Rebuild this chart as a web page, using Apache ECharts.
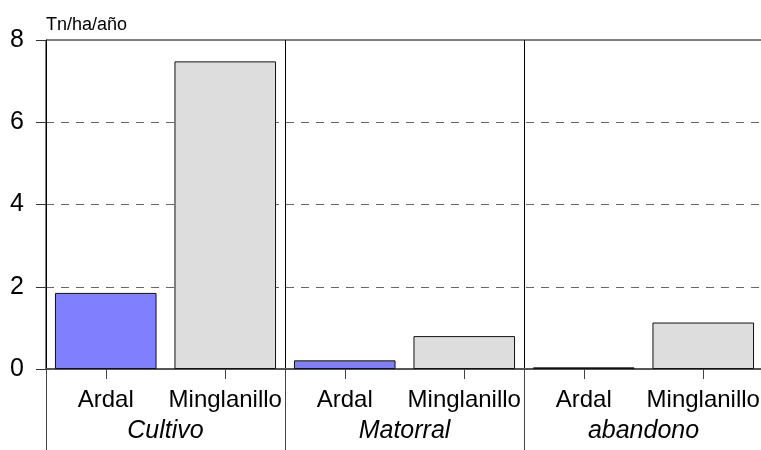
<!DOCTYPE html>
<html>
<head>
<meta charset="utf-8">
<script src="https://cdn.jsdelivr.net/npm/echarts@6/dist/echarts.min.js"></script>
<style>
html, body { margin: 0; padding: 0; background: #fff; }
#chart { width: 761px; height: 450px; }
</style>
</head>
<body>
<div id="chart"></div>
<script>
// grupos (uso del suelo) y sitios
var groups = ['Cultivo', 'Matorral', 'abandono'];
var sites = ['Ardal', 'Minglanillo'];
// Tn/ha/año
var ardal = [1.85, 0.21, 0.04];
var minglanillo = [7.48, 0.80, 1.13];
var yTicks = [0, 2, 4, 6, 8];

(function() {
	var cats = [];
	var ardalData = [];
	var mingData = [];
	for (var i = 0; i < groups.length; i++) {
		cats.push(sites[0]);
		cats.push(sites[1]);
		ardalData.push(ardal[i], '-');
		mingData.push('-', minglanillo[i]);
	}

	var chart = echarts.init(document.getElementById('chart'));
	chart.setOption({
		animation : false,
		textStyle : { fontFamily : 'Liberation Sans, Arial, sans-serif' },
		grid : {
			left : 46,
			right : -2,
			top : 40,
			bottom : 81,
			outerBoundsMode : 'none',
			containLabel : false,
			show : true,
			borderColor : '#000',
			borderWidth : 1,
			backgroundColor : 'transparent'
		},
		xAxis : [ {
			type : 'category',
			data : cats,
			axisLine : { show : true, lineStyle : { color : '#555', width : 2 } },
			axisTick : { show : true, alignWithLabel : true, length : 10, lineStyle : { color : '#444' } },
			axisLabel : { color : '#000', fontSize : 24, margin : 19, interval : 0 },
			splitLine : { show : false }
		}, {
			type : 'category',
			data : groups,
			position : 'bottom',
			axisLine : { show : false },
			axisTick : { show : true, alignWithLabel : false, length : 81, lineStyle : { color : '#444' } },
			axisLabel : { color : '#000', fontSize : 25, fontStyle : 'italic', margin : 50, interval : 0 },
			splitLine : { show : true, lineStyle : { color : '#000', width : 1 } }
		} ],
		yAxis : {
			type : 'value',
			min : 0,
			max : 8,
			interval : 2,
			name : 'Tn/ha/año',
			nameLocation : 'end',
			nameGap : 6,
			nameTextStyle : { color : '#000', fontSize : 18, align : 'left' },
			axisLine : { show : true, lineStyle : { color : '#000', width : 1 } },
			axisTick : { show : true, length : 10, lineStyle : { color : '#333' } },
			axisLabel : {
				color : '#000', fontSize : 25, margin : 22,
				customValues : yTicks
			},
			splitLine : {
				show : true,
				showMinLine : false,
				showMaxLine : false,
				lineStyle : { color : '#666', type : [8, 7], width : 1 }
			}
		},
		series : [ {
			name : sites[0],
			type : 'bar',
			stack : 'a',
			barWidth : '85%',
			data : ardalData,
			itemStyle : { color : '#8080ff', borderColor : '#111', borderWidth : 1 }
		}, {
			name : sites[1],
			type : 'bar',
			stack : 'a',
			barWidth : '85%',
			data : mingData,
			itemStyle : { color : '#dddddd', borderColor : '#111', borderWidth : 1 }
		} ]
	});
})();
</script>
</body>
</html>
